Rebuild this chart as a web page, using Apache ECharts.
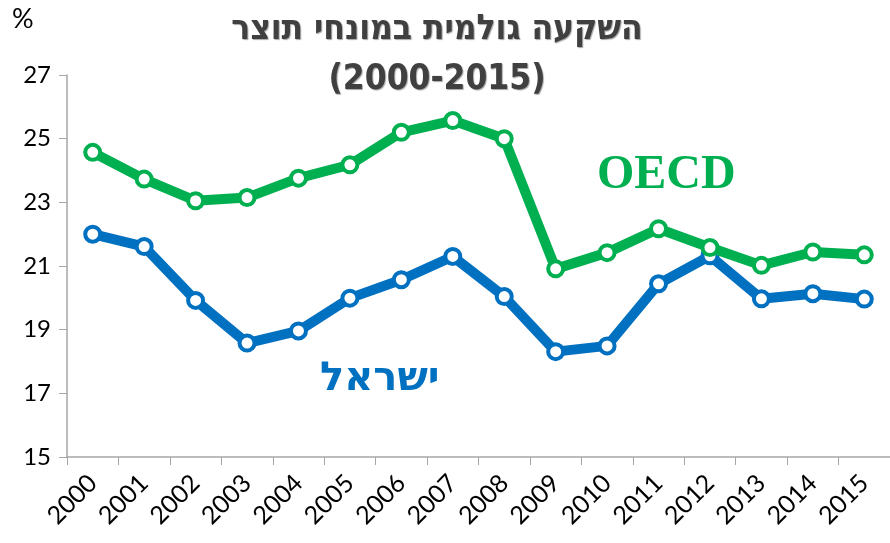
<!DOCTYPE html>
<html>
<head>
<meta charset="utf-8">
<script src="https://cdn.jsdelivr.net/npm/echarts@6/dist/echarts.min.js"></script>
<style>
html, body { margin: 0; padding: 0; background: #fff; }
#main { width: 890px; height: 543px; }
</style>
</head>
<body>
<div id="main"></div>
<script>
var years = ['2000', '2001', '2002', '2003', '2004', '2005', '2006', '2007',
    '2008', '2009', '2010', '2011', '2012', '2013', '2014', '2015'];
var oecd = [24.57, 23.73, 23.05, 23.15, 23.76, 24.18, 25.2, 25.57,
    25.0, 20.91, 21.42, 22.17, 21.58, 21.02, 21.44, 21.35];
var israel = [22.0, 21.61, 19.92, 18.58, 18.96, 19.99, 20.57, 21.3,
    20.04, 18.31, 18.49, 20.44, 21.32, 19.97, 20.13, 19.96];
var yTicks = [15, 17, 19, 21, 23, 25, 27];

var green = '#00B050';
var blue = '#0070C0';

var chart = echarts.init(document.getElementById('main'));

function lineSeries(name, data, color) {
    return {
        name: name,
        type: 'line',
        data: data,
        symbol: 'circle',
        symbolSize: 15,
        lineStyle: { color: color, width: 10 },
        itemStyle: { color: '#fff', borderColor: color, borderWidth: 4 },
        z: name === 'OECD' ? 3 : 2
    };
}

var option = {
    animation: false,
    title: {
        text: 'השקעה גולמית במונחי תוצר\n(2000-2015)',
        left: 432,
        top: 0,
        textAlign: 'center',
        textStyle: {
            color: '#404040',
            fontFamily: 'DejaVu Sans Condensed',
            fontWeight: 'bold',
            fontSize: 35,
            lineHeight: 50,
            textShadowColor: 'rgba(0,0,0,0.35)',
            textShadowOffsetX: 1,
            textShadowOffsetY: 1,
            textShadowBlur: 1
        }
    },
    grid: { left: 67, right: 0, top: 75, bottom: 86 },
    xAxis: {
        type: 'category',
        data: years,
        boundaryGap: true,
        axisLine: { lineStyle: { color: '#a6a6a6', width: 1.5 } },
        axisTick: { show: true, length: 8, lineStyle: { color: '#a6a6a6' } },
        axisLabel: {
            rotate: 45,
            interval: 0,
            margin: 22,
            color: '#000',
            fontFamily: 'Lato',
            fontSize: 25
        }
    },
    yAxis: {
        type: 'value',
        min: yTicks[0],
        max: yTicks[yTicks.length - 1],
        interval: 2,
        axisLine: { show: true, lineStyle: { color: '#a6a6a6', width: 1.5 } },
        axisTick: { show: true, length: 8, lineStyle: { color: '#a6a6a6' } },
        splitLine: { show: false },
        axisLabel: {
            margin: 16,
            color: '#000',
            fontFamily: 'Lato',
            fontSize: 24
        }
    },
    series: [
        lineSeries('ישראל', israel, blue),
        lineSeries('OECD', oecd, green)
    ],
    graphic: [
        {
            type: 'text', left: 12, top: 6,
            style: { text: '%', fill: '#000', font: '27px Lato' }
        },
        {
            type: 'text', left: 597, top: 152,
            style: { text: 'OECD', fill: green, font: 'bold 48px "Liberation Serif"' }
        },
        {
            type: 'text', left: 320, top: 360,
            style: { text: 'ישראל', fill: blue, font: 'bold 40px "DejaVu Sans"' }
        }
    ]
};

chart.setOption(option);
</script>
</body>
</html>
